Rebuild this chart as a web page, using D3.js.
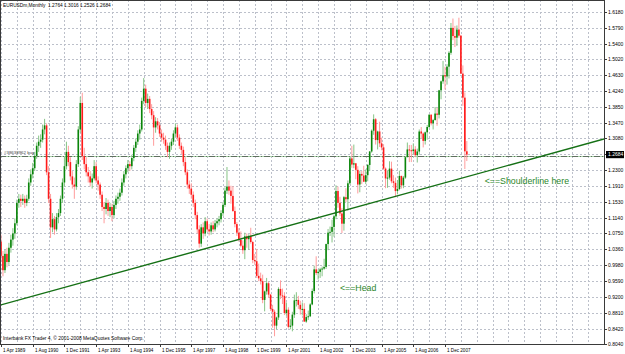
<!DOCTYPE html>
<html><head><meta charset="utf-8">
<script src="https://cdn.jsdelivr.net/npm/d3@7"></script>
<style>html,body{margin:0;padding:0;background:#fff;overflow:hidden}</style>
</head><body><svg id="c" width="625" height="354"></svg>
<script>
// ---------- DATA ----------
const startMonth = "1989-04-01"; // first bar (index 0)
const opens = [
1.055,1.020,0.985,1.025,1.005,1.040,1.060,1.075,1.100,1.150,
1.160,1.155,1.160,1.150,1.160,1.200,1.220,1.235,1.265,1.290,
1.300,1.305,1.330,1.340,1.225,1.160,1.090,1.110,1.085,1.115,
1.125,1.160,1.200,1.240,1.275,1.250,1.215,1.195,1.190,1.245,
1.330,1.395,1.265,1.245,1.225,1.215,1.200,1.210,1.240,1.205,
1.195,1.170,1.140,1.135,1.150,1.130,1.140,1.120,1.145,1.160,
1.165,1.175,1.200,1.220,1.235,1.245,1.240,1.260,1.285,1.300,
1.320,1.330,1.400,1.430,1.395,1.405,1.380,1.365,1.335,1.350,
1.340,1.320,1.310,1.305,1.290,1.275,1.290,1.300,1.320,1.335,
1.310,1.290,1.280,1.250,1.225,1.195,1.185,1.170,1.150,1.120,
1.085,1.050,1.090,1.075,1.105,1.085,1.080,1.095,1.085,1.100,
1.105,1.110,1.125,1.145,1.180,1.190,1.180,
1.167,1.130,1.098,1.077,1.059,1.045,1.034,1.068,1.061,1.069,1.054,1.010,
1.007,0.971,0.965,0.958,0.912,0.933,0.953,0.925,0.890,0.883,0.849,0.869,
0.939,0.923,0.922,0.880,0.888,0.846,0.849,0.876,0.911,0.912,0.900,0.889,
0.890,0.859,0.870,0.872,0.901,0.934,0.987,0.978,0.981,0.987,0.989,0.993,
1.049,1.077,1.079,1.091,1.117,1.179,1.150,1.124,1.099,1.164,1.159,1.198,
1.259,1.244,1.247,1.231,1.195,1.221,1.217,1.202,1.218,1.243,1.276,1.327,
1.355,1.304,1.325,1.296,1.286,1.234,1.210,1.212,1.234,1.203,1.199,1.179,
1.184,1.216,1.193,1.212,1.262,1.281,1.279,1.277,1.281,1.267,1.276,1.325,
1.320,1.302,1.323,1.336,1.366,1.345,1.353,1.369,1.366,1.426,1.448,1.463,
1.460,1.484,1.518,1.579,1.559,1.555,1.575,1.560,1.467,1.408,1.2764];
const highs = [
1.072,1.032,1.035,1.040,1.052,1.072,1.088,1.112,1.158,1.172,
1.170,1.172,1.168,1.170,1.210,1.232,1.248,1.275,1.298,1.315,
1.318,1.342,1.356,1.345,1.240,1.172,1.125,1.118,1.125,1.135,
1.168,1.210,1.262,1.300,1.290,1.262,1.228,1.212,1.255,1.338,
1.410,1.420,1.285,1.262,1.238,1.228,1.222,1.255,1.250,1.215,
1.200,1.178,1.152,1.162,1.158,1.150,1.148,1.155,1.168,1.175,
1.185,1.210,1.228,1.242,1.255,1.252,1.268,1.292,1.308,1.328,
1.342,1.408,1.456,1.440,1.418,1.412,1.392,1.375,1.360,1.358,
1.348,1.330,1.322,1.315,1.298,1.298,1.308,1.328,1.345,1.342,
1.318,1.298,1.288,1.262,1.232,1.205,1.198,1.178,1.158,1.128,
1.095,1.098,1.102,1.115,1.112,1.098,1.102,1.105,1.108,1.112,
1.118,1.132,1.152,1.188,1.238,1.205,1.192,
1.191,1.141,1.103,1.088,1.080,1.058,1.077,1.075,1.073,1.089,1.057,1.025,
1.037,1.001,0.979,0.974,0.935,0.966,0.957,0.927,0.900,0.888,0.871,0.943,
0.960,0.940,0.931,0.906,0.894,0.865,0.883,0.925,0.931,0.922,0.910,0.906,
0.904,0.877,0.886,0.904,0.940,0.996,1.019,0.987,0.991,0.994,1.013,1.050,
1.086,1.092,1.109,1.121,1.193,1.190,1.165,1.137,1.167,1.186,1.205,1.263,
1.290,1.293,1.248,1.240,1.229,1.228,1.241,1.232,1.245,1.277,1.330,1.367,
1.358,1.327,1.349,1.310,1.294,1.237,1.230,1.252,1.251,1.218,1.212,1.206,
1.229,1.217,1.216,1.264,1.298,1.292,1.292,1.296,1.289,1.283,1.330,1.336,
1.323,1.325,1.341,1.368,1.368,1.356,1.385,1.383,1.427,1.450,1.498,1.484,
1.490,1.522,1.591,1.602,1.584,1.585,1.604,1.562,1.487,1.421,1.3016];
const lows = [
1.005,0.970,0.978,0.992,0.998,1.028,1.045,1.062,1.095,1.138,
1.140,1.145,1.138,1.142,1.155,1.192,1.210,1.228,1.258,1.275,
1.285,1.298,1.318,1.218,1.150,1.064,1.078,1.072,1.080,1.100,
1.118,1.150,1.190,1.232,1.240,1.205,1.185,1.160,1.182,1.238,
1.322,1.255,1.232,1.215,1.200,1.190,1.185,1.205,1.198,1.180,
1.160,1.130,1.100,1.122,1.118,1.115,1.105,1.112,1.135,1.148,
1.155,1.168,1.192,1.210,1.225,1.228,1.232,1.252,1.275,1.292,
1.305,1.325,1.392,1.385,1.380,1.370,1.355,1.290,1.322,1.330,
1.312,1.300,1.295,1.280,1.262,1.258,1.280,1.292,1.312,1.302,
1.282,1.270,1.240,1.218,1.185,1.172,1.160,1.140,1.110,1.075,
1.040,1.042,1.062,1.068,1.078,1.070,1.072,1.078,1.080,1.090,
1.095,1.102,1.118,1.140,1.172,1.170,1.148,
1.128,1.090,1.069,1.055,1.041,1.025,1.012,1.040,1.035,1.050,1.002,0.998,
0.966,0.958,0.950,0.904,0.884,0.925,0.917,0.885,0.844,0.823,0.840,0.863,
0.914,0.902,0.875,0.873,0.842,0.840,0.835,0.868,0.896,0.890,0.876,0.874,
0.858,0.856,0.863,0.870,0.899,0.928,0.973,0.962,0.966,0.970,0.986,0.988,
1.034,1.069,1.053,1.067,1.110,1.138,1.118,1.076,1.082,1.152,1.131,1.195,
1.236,1.235,1.208,1.173,1.176,1.196,1.201,1.196,1.203,1.228,1.273,1.317,
1.293,1.281,1.287,1.279,1.231,1.186,1.187,1.207,1.198,1.187,1.164,1.171,
1.181,1.185,1.186,1.209,1.262,1.250,1.250,1.269,1.262,1.249,1.268,1.308,
1.286,1.293,1.305,1.333,1.340,1.330,1.352,1.339,1.357,1.404,1.442,1.428,
1.440,1.455,1.513,1.549,1.532,1.535,1.555,1.466,1.388,1.233,1.2526];
const closes = [
1.020,0.985,1.025,1.005,1.040,1.060,1.075,1.100,1.150,1.160,
1.155,1.160,1.150,1.160,1.200,1.220,1.235,1.265,1.290,1.300,
1.305,1.330,1.340,1.225,1.160,1.090,1.110,1.085,1.115,1.125,
1.160,1.200,1.240,1.275,1.250,1.215,1.195,1.190,1.245,1.330,
1.395,1.265,1.245,1.225,1.215,1.200,1.210,1.240,1.205,1.195,
1.170,1.140,1.135,1.150,1.130,1.140,1.120,1.145,1.160,1.165,
1.175,1.200,1.220,1.235,1.245,1.240,1.260,1.285,1.300,1.320,
1.330,1.400,1.430,1.395,1.405,1.380,1.365,1.335,1.350,1.340,
1.320,1.310,1.305,1.290,1.275,1.290,1.300,1.320,1.335,1.310,
1.290,1.280,1.250,1.225,1.195,1.185,1.170,1.150,1.120,1.085,
1.050,1.090,1.075,1.105,1.085,1.080,1.095,1.085,1.100,1.105,
1.110,1.125,1.145,1.180,1.190,1.180,1.167,
1.130,1.098,1.077,1.059,1.045,1.034,1.068,1.061,1.069,1.054,1.010,1.007,
0.971,0.965,0.958,0.912,0.933,0.953,0.925,0.890,0.883,0.849,0.869,0.939,
0.923,0.922,0.880,0.888,0.846,0.849,0.876,0.911,0.912,0.900,0.889,0.890,
0.859,0.870,0.872,0.901,0.934,0.987,0.978,0.981,0.987,0.989,0.993,1.049,
1.077,1.079,1.091,1.117,1.179,1.150,1.124,1.099,1.164,1.159,1.198,1.259,
1.244,1.247,1.231,1.195,1.221,1.217,1.202,1.218,1.243,1.276,1.327,1.355,
1.304,1.325,1.296,1.286,1.234,1.210,1.212,1.234,1.203,1.199,1.179,1.184,
1.216,1.193,1.212,1.262,1.281,1.279,1.277,1.281,1.267,1.276,1.325,1.320,
1.302,1.323,1.336,1.366,1.345,1.353,1.369,1.366,1.426,1.448,1.463,1.460,
1.484,1.518,1.579,1.559,1.555,1.575,1.560,1.467,1.408,1.2764,1.2684];

const priceTicks = [1.6180,1.5790,1.5400,1.5020,1.4630,1.4240,1.3850,1.3470,1.3080,1.2690,
  1.2300,1.1910,1.1530,1.1140,1.0750,1.0360,0.9980,0.9590,0.9200,0.8810,0.8420,0.8040];
const dateLabels = ["1 Apr 1989","1 Aug 1990","1 Dec 1991","1 Apr 1993","1 Aug 1994","1 Dec 1995",
  "1 Apr 1997","1 Aug 1998","1 Dec 1999","1 Apr 2001","1 Aug 2002","1 Dec 2003","1 Apr 2005",
  "1 Aug 2006","1 Dec 2007"];
const trendPoints = [[0, 0.900], [300, 1.301]];   // [bar index, price]
const orderPrice = 1.2650;
const orderLabel = "#38638962 buy";
const currentPrice = 1.2684;
const title = "EURUSDm,Monthly  1.2764 1.3016 1.2526 1.2684";
const copyright = "Interbank FX Trader 4, \u00a9 2001-2008 MetaQuotes Software Corp.";
const notes = [{text:"<==Shoulderline here", i:244, p:1.196}, {text:"<==Head", i:171, p:0.934}];

// ---------- LAYOUT ----------
const W = 625, H = 354;
const plotR = 604, plotB = 344;
const font = "'Liberation Sans', Arial, sans-serif";
const svg = d3.select("#c");
svg.append("rect").attr("width", W).attr("height", H).attr("fill", "#fff");

const x = d3.scaleLinear().domain([-0.5, 304.2]).range([0, plotR]);
const y = d3.scaleLinear().domain([0.8040, 1.6180]).range([344, 12]);
const parse = d3.timeParse("%d %b %Y");
const start = d3.timeParse("%Y-%m-%d")(startMonth);
const idxOf = s => d3.timeMonth.count(start, parse(s));

const plot = svg.append("g");
plot.append("clipPath").attr("id","clip").append("rect")
  .attr("x",0).attr("y",0).attr("width",plotR).attr("height",plotB);

// grid: horizontal at every price tick, vertical every 8 bars
const grid = plot.append("g").attr("stroke","#bcc0ca").attr("stroke-dasharray","2,2").attr("stroke-width",1);
priceTicks.forEach(p => {
  const yy = Math.round(y(p)) + 0.5;
  grid.append("line").attr("x1",0).attr("x2",plotR).attr("y1",yy).attr("y2",yy);
});
const vIdx = d3.range(0, 305, 8);
vIdx.forEach(i => {
  const xx = Math.round(x(i)) + 0.5;
  if (xx < plotR - 1) grid.append("line").attr("x1",xx).attr("x2",xx).attr("y1",0).attr("y2",plotB);
});

// order line
const oy = Math.round(y(orderPrice)) + 0.5;
plot.append("line").attr("x1",0).attr("x2",plotR).attr("y1",oy).attr("y2",oy)
  .attr("stroke","#a9d3a9").attr("stroke-width",1);
plot.append("line").attr("x1",0).attr("x2",plotR).attr("y1",oy).attr("y2",oy)
  .attr("stroke","#5f6f5f").attr("stroke-width",1).attr("stroke-dasharray","6,2,1,2");
plot.append("text").attr("x",4).attr("y",oy-3).text(orderLabel)
  .attr("font-family",font).attr("font-size",4.4).attr("fill","#444");

// candles
const bars = plot.append("g").attr("clip-path","url(#clip)");
closes.forEach((c, i) => {
  const o = opens[i], up = c >= o;
  const cx = x(i);
  bars.append("line").attr("x1",cx).attr("x2",cx)
    .attr("y1",y(highs[i])).attr("y2",y(lows[i]))
    .attr("stroke", up ? "#86c486" : "#ff9c9c").attr("stroke-width",1);
  const y0 = y(Math.max(o,c)), y1 = y(Math.min(o,c));
  bars.append("rect").attr("x",cx-0.8).attr("width",1.6)
    .attr("y",y0).attr("height",Math.max(1, y1-y0))
    .attr("fill", up ? "#0a850a" : "#ff1a1a");
});

// trend line
const tl = d3.scaleLinear().domain([trendPoints[0][0], trendPoints[1][0]]).range([trendPoints[0][1], trendPoints[1][1]]);
const i0 = x.invert(0), i1 = x.invert(plotR);
plot.append("line").attr("clip-path","url(#clip)")
  .attr("x1",x(i0)).attr("y1",y(tl(i0))).attr("x2",x(i1)).attr("y2",y(tl(i1)))
  .attr("stroke","#157015").attr("stroke-width",1.4);

// annotations
notes.forEach(n => {
  plot.append("text").attr("x",x(n.i)).attr("y",y(n.p)).text(n.text)
    .attr("font-family",font).attr("font-size",8.8).attr("fill","#2a862a");
});

// frame
svg.append("rect").attr("x",0.5).attr("y",0.5).attr("width",plotR).attr("height",plotB)
  .attr("fill","none").attr("stroke","#3a3a3a").attr("stroke-width",1);

// price axis
const pa = svg.append("g");
priceTicks.forEach(p => {
  const yy = Math.round(y(p)) + 0.5;
  pa.append("line").attr("x1",plotR).attr("x2",plotR+3).attr("y1",yy).attr("y2",yy).attr("stroke","#3a3a3a");
  if (Math.abs(p - currentPrice) > 0.01)
    pa.append("text").attr("x",608).attr("y",yy+1.8).text(p.toFixed(4))
      .attr("font-family",font).attr("font-size",5).attr("fill","#000");
});
const cy = y(currentPrice);
pa.append("rect").attr("x",606).attr("y",cy-3.6).attr("width",18).attr("height",7.2).attr("fill","#000");
pa.append("text").attr("x",608).attr("y",cy+1.8).text(currentPrice.toFixed(4))
  .attr("font-family",font).attr("font-size",5).attr("fill","#fff");

// date axis
const da = svg.append("g");
dateLabels.forEach(s => {
  const xx = Math.round(x(idxOf(s))) + 0.5;
  da.append("line").attr("x1",xx).attr("x2",xx).attr("y1",plotB).attr("y2",plotB+3).attr("stroke","#3a3a3a");
  da.append("text").attr("x",xx+1.5).attr("y",351.5).text(s)
    .attr("font-family",font).attr("font-size",4.6).attr("fill","#000");
});

// titles
svg.append("text").attr("x",3).attr("y",6.5).text(title).attr("font-family",font).attr("font-size",4.8).attr("fill","#000")
  .style("white-space","pre").attr("xml:space","preserve");
svg.append("text").attr("x",3).attr("y",340).text(copyright).attr("font-family",font).attr("font-size",4.9).attr("fill","#000");
</script></body></html>
